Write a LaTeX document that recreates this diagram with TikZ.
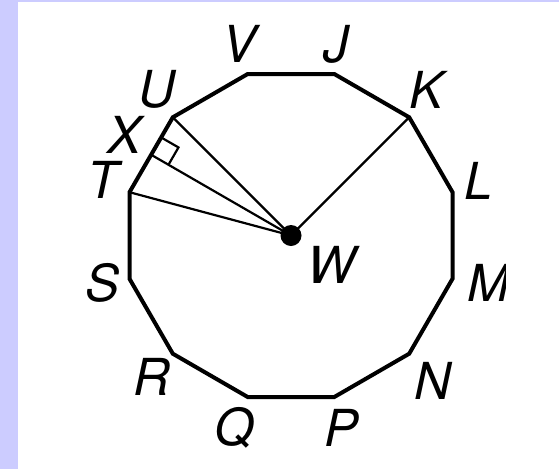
\documentclass[tikz,border=0pt]{standalone}
\usepackage{fontspec}
\setmainfont{TeX Gyre Heros}
\definecolor{lav}{HTML}{CCCCFF}
\begin{document}
\begin{tikzpicture}[x=1pt,y=-1pt,
  poly/.style={line width=4pt,line join=miter},
  thin/.style={line width=2.2pt},
  lbl/.style={inner sep=0pt,font=\fontsize{51}{51}\selectfont\itshape}]
\useasboundingbox (0,0) rectangle (559,469);
\fill[white] (0,0) rectangle (559,469);
\fill[lav] (0,0) rectangle (18,469);
\fill[lav] (0,0) rectangle (559,2);
% vertices
\coordinate (W) at (291,235.5);
\coordinate (J) at (334.3,74.0);
\coordinate (V) at (247.7,74.0);
\coordinate (U) at (172.8,117.3);
\coordinate (T) at (129.5,192.2);
\coordinate (S) at (129.5,278.8);
\coordinate (R) at (172.8,353.7);
\coordinate (Q) at (247.7,397.0);
\coordinate (P) at (334.3,397.0);
\coordinate (N) at (409.2,353.7);
\coordinate (M) at (452.5,278.8);
\coordinate (L) at (452.5,192.2);
\coordinate (K) at (409.2,117.3);
\coordinate (X) at (151.15,154.75);
% inner segments
\draw[thin] (W) -- (U);
\draw[thin] (W) -- (X);
\draw[thin] (W) -- (T);
\draw[thin] (W) -- (K);
% right angle mark
\coordinate (ra1) at (161.15,137.43);
\coordinate (ra2) at (178.47,147.43);
\coordinate (ra3) at (168.47,164.75);
\draw[thin] (ra1) -- (ra2) -- (ra3);
% polygon
\draw[poly] (J) -- (V) -- (U) -- (T) -- (S) -- (R) -- (Q) -- (P) -- (N) -- (M) -- (L) -- (K) -- cycle;
\fill (W) circle (10.5);
% labels
\node[lbl] (lV) at (240,44) {V};
\node[lbl] (lJ) at (336,44) {J};
\node[lbl] (lU) at (157,89) {U};
\node[lbl] (lX) at (125,135) {X};
\node[lbl] (lT) at (103,180) {T};
\node[lbl] (lS) at (103,283) {S};
\node[lbl] (lR) at (152,377) {R};
\node[lbl] (lW) at (332,265) {W};
\node[lbl] (lK) at (427,90) {K};
\node[lbl] (lL) at (479,181) {L};
\node[lbl] (lN) at (433,381) {N};
\node[lbl] (lQ) at (234,428) {Q};
\node[lbl] (lP) at (342,428) {P};
\begin{scope}
\clip (0,0) rectangle (505,469);
\node[lbl] (lM) at (489,283) {M};
\end{scope}
\end{tikzpicture}
\end{document}
